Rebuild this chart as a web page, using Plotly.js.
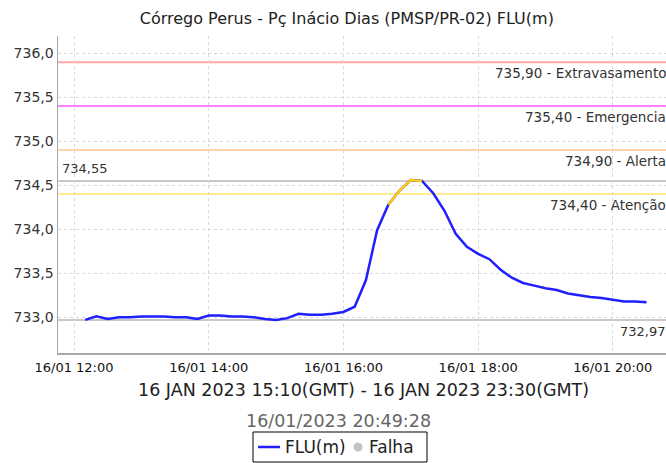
<!DOCTYPE html>
<html>
<head>
<meta charset="utf-8">
<script src="https://cdn.plot.ly/plotly-3.0.1.min.js"></script>
<style>
  html, body { margin: 0; padding: 0; background: #fff; }
  #chart { width: 666px; height: 463px; }
</style>
</head>
<body>
<div id="chart"></div>
<script>
// ---- data ----
const day = "2023-01-16";
const times = [
  "12:10","12:20","12:30","12:40","12:50","13:00","13:10","13:20","13:30","13:40",
  "13:50","14:00","14:10","14:20","14:30","14:40","14:50","15:00","15:10","15:20",
  "15:30","15:40","15:50","16:00","16:10","16:20","16:30","16:40","16:50","17:00",
  "17:10","17:20","17:30","17:40","17:50","18:00","18:10","18:20","18:30","18:40",
  "18:50","19:00","19:10","19:20","19:30","19:40","19:50","20:00","20:10","20:20",
  "20:30"
];
const levels = [
  732.97, 733.01, 732.98, 733.00, 733.00, 733.01, 733.01, 733.01, 733.00, 733.00,
  732.98, 733.02, 733.02, 733.01, 733.01, 733.00, 732.98, 732.97, 732.99, 733.04,
  733.03, 733.03, 733.04, 733.06, 733.12, 733.42, 733.99, 734.28, 734.44, 734.56,
  734.55, 734.41, 734.21, 733.95, 733.80, 733.72, 733.66, 733.54, 733.45, 733.39,
  733.36, 733.33, 733.31, 733.27, 733.25, 733.23, 733.22, 733.20, 733.18, 733.18,
  733.17
];
// segment drawn in yellow (alert status)
const alertFrom = "16:40";
const alertTo = "17:10";

const thresholdValues = [735.90, 735.40, 734.90, 734.40];
const thresholdNames  = ["Extravasamento", "Emergencia", "Alerta", "Atenção"];
const thresholdColors = ["#ffa8a8", "#ff80ff", "#ffd3aa", "#ffeb90"];

const maxValue = 734.55;
const minValue = 732.97;

const seriesNames = ["FLU(m)", "Falha"];
const seriesColors = ["#1f1fff", "#c4c4c4"];
const alertColor = "#ffcc11";

const titleText = "Córrego Perus - Pç Inácio Dias (PMSP/PR-02) FLU(m)";
const periodText = "16 JAN 2023 15:10(GMT) - 16 JAN 2023 23:30(GMT)";
const stampText = "16/01/2023 20:49:28";
const xRange = [day + " 11:45:45", day + " 20:47:20"];
const yRange = [732.594, 736.197];

// ---- build ----
const fmt = v => v.toFixed(2).replace(".", ",");
const xs = times.map(t => day + " " + t);
const alertIdx = times.map((t, i) => (t >= alertFrom && t <= alertTo) ? i : -1).filter(i => i >= 0);

const FONT = "DejaVu Sans, sans-serif";
const W = 666, H = 463, ML = 58, MT = 36, MB = 110;
const plotW = W - ML, plotH = H - MT - MB, plotBottom = H - MB;
const px = x => (x - ML) / plotW;          // pixel -> paper x
const py = y => (plotBottom - y) / plotH;  // pixel -> paper y

const traces = [
  {
    x: xs, y: levels, type: "scatter", mode: "lines", name: seriesNames[0],
    line: { color: seriesColors[0], width: 2.5 }, showlegend: false
  },
  {
    x: alertIdx.map(i => xs[i]), y: alertIdx.map(i => levels[i]),
    type: "scatter", mode: "lines", showlegend: false,
    line: { color: alertColor, width: 2.5 }
  },
  {
    x: [null], y: [null], type: "scatter", mode: "markers", name: seriesNames[1],
    marker: { color: seriesColors[1], size: 10 }, showlegend: false
  }
];

const shapes = [];
const annotations = [];
const labelFont = { family: FONT, size: 13.5, color: "#333333" };
thresholdValues.forEach((v, i) => {
  shapes.push({
    type: "line", xref: "paper", x0: 0, x1: 1, yref: "y", y0: v, y1: v,
    line: { color: thresholdColors[i], width: 2 }, layer: "below"
  });
  annotations.push({
    xref: "paper", x: 1.004, xanchor: "right",
    yref: "y", y: v, yanchor: "top", yshift: -1,
    text: fmt(v) + " - " + thresholdNames[i], showarrow: false,
    font: labelFont
  });
});
[maxValue, minValue].forEach(v => {
  shapes.push({
    type: "line", xref: "paper", x0: 0, x1: 1, yref: "y", y0: v, y1: v,
    line: { color: "#c8c8c8", width: 2 }, layer: "below"
  });
});
annotations.push({
  xref: "paper", x: 0.004, xanchor: "left", yref: "y", y: maxValue, yanchor: "bottom", yshift: 3,
  text: fmt(maxValue), showarrow: false, font: { family: FONT, size: 13, color: "#333333" }
});
annotations.push({
  xref: "paper", x: 1.004, xanchor: "right", yref: "y", y: minValue, yanchor: "top", yshift: -2,
  text: fmt(minValue), showarrow: false, font: { family: FONT, size: 13, color: "#333333" }
});
annotations.push({
  xref: "paper", x: 0.503, xanchor: "center", yref: "paper", y: -0.079, yanchor: "top",
  text: periodText, showarrow: false, font: { family: FONT, size: 17.5, color: "#222222" }
});
annotations.push({
  xref: "paper", x: 0.462, xanchor: "center", yref: "paper", y: -0.177, yanchor: "top",
  text: stampText, showarrow: false, font: { family: FONT, size: 17.5, color: "#666666" }
});

// ---- legend box (drawn in paper coordinates below the plot) ----
const legY = 447;
shapes.push({
  type: "rect", xref: "paper", yref: "paper",
  x0: px(253), x1: px(427), y0: py(432), y1: py(462),
  line: { color: "#000000", width: 1 }, fillcolor: "#ffffff", layer: "above"
});
shapes.push({
  type: "line", xref: "paper", yref: "paper",
  x0: px(258), x1: px(280), y0: py(legY), y1: py(legY),
  line: { color: seriesColors[0], width: 2.5 }, layer: "above"
});
shapes.push({
  type: "circle", xref: "paper", yref: "paper",
  x0: px(353.5), x1: px(362.5), y0: py(legY + 4.5), y1: py(legY - 4.5),
  line: { color: seriesColors[1], width: 0 }, fillcolor: seriesColors[1], layer: "above"
});
annotations.push({
  xref: "paper", x: px(283), xanchor: "left", yref: "paper", y: py(legY), yanchor: "middle",
  text: seriesNames[0], showarrow: false, font: { family: FONT, size: 17, color: "#222222" }
});
annotations.push({
  xref: "paper", x: px(367), xanchor: "left", yref: "paper", y: py(legY), yanchor: "middle",
  text: seriesNames[1], showarrow: false, font: { family: FONT, size: 17, color: "#222222" }
});

const layout = {
  width: W, height: H,
  margin: { l: ML, r: 0, t: MT, b: MB },
  paper_bgcolor: "#ffffff", plot_bgcolor: "#ffffff",
  separators: ",.",
  font: { family: FONT, size: 13, color: "#222222" },
  title: {
    text: titleText, xref: "paper", x: 0.475, xanchor: "center",
    yref: "container", y: 0.96, yanchor: "middle",
    font: { family: FONT, size: 16, color: "#222222" }
  },
  xaxis: {
    type: "date", range: xRange,
    tick0: day + " 12:00", dtick: 2 * 3600 * 1000, tickformat: "%d/%m %H:%M",
    showgrid: true, gridcolor: "#d8d8d8", griddash: "3px,3px", gridwidth: 1,
    showline: true, linecolor: "#a8a8a8", linewidth: 1.5,
    ticks: "", zeroline: false, ticklabelstandoff: 2,
    tickfont: { family: FONT, size: 13, color: "#111111" }
  },
  yaxis: {
    range: yRange, dtick: 0.5, tick0: 733, tickformat: ".1f",
    showgrid: true, gridcolor: "#d8d8d8", griddash: "3px,3px", gridwidth: 1,
    showline: true, linecolor: "#a8a8a8", linewidth: 1.5,
    ticks: "", zeroline: false,
    tickfont: { family: FONT, size: 14, color: "#333333" }
  },
  showlegend: false,
  shapes: shapes,
  annotations: annotations
};

Plotly.newPlot("chart", traces, layout, { displayModeBar: false, staticPlot: true });
</script>
</body>
</html>
